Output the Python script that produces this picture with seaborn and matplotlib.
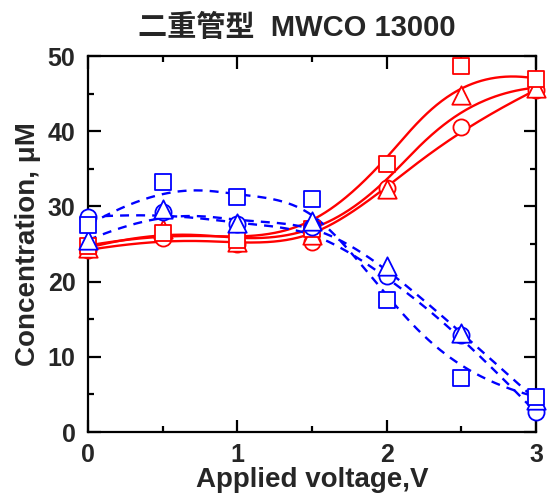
import numpy as np
import pandas as pd
import matplotlib
matplotlib.use("Agg")
import matplotlib.pyplot as plt
import seaborn as sns
from matplotlib.ticker import MultipleLocator

# ---- data ----
voltage = [0.0, 0.5, 1.0, 1.5, 2.0, 2.5, 3.0]

red_square   = [24.8, 26.5, 25.5, 27.0, 35.6, 48.7, 47.0]
red_triangle = [24.5, 27.0, 25.3, 26.2, 32.3, 44.8, 45.8]
red_circle   = [24.2, 25.8, 25.0, 25.3, 32.4, 40.5, 45.5]

blue_square   = [27.5, 33.2, 31.3, 31.0, 17.6, 7.2, 4.7]
blue_triangle = [25.5, 29.7, 27.8, 28.0, 22.1, 13.2, 4.3]
blue_circle   = [28.6, 29.2, 27.6, 27.2, 20.8, 12.9, 2.6]

title_text = "二重管型  MWCO 13000"
xlabel_text = "Applied voltage,V"
ylabel_text = "Concentration, μM"


def bspline(xs, ys, n=300, k=3):
    """Clamped uniform B-spline using data points as control points (Origin-style)."""
    P = np.column_stack([xs, ys]).astype(float)
    m = len(P)
    inner = np.linspace(0, 1, m - k + 1)
    t = np.concatenate([np.zeros(k), inner, np.ones(k)])
    u = np.linspace(0, 1, n)
    u[-1] = 1 - 1e-12

    def basis(i, p, uu):
        if p == 0:
            return np.where((t[i] <= uu) & (uu < t[i + 1]), 1.0, 0.0)
        out = np.zeros_like(uu)
        d1 = t[i + p] - t[i]
        d2 = t[i + p + 1] - t[i + 1]
        if d1 > 0:
            out += (uu - t[i]) / d1 * basis(i, p - 1, uu)
        if d2 > 0:
            out += (t[i + p + 1] - uu) / d2 * basis(i + 1, p - 1, uu)
        return out

    B = np.column_stack([basis(i, k, u) for i in range(m)])
    C = B @ P
    return C[:, 0], C[:, 1]


series = [
    ("red_c", red_circle, "#FF0000", "o", "solid"),
    ("red_t", red_triangle, "#FF0000", "^", "solid"),
    ("red_s", red_square, "#FF0000", "s", "solid"),
    ("blue_c", blue_circle, "#0000FF", "o", "dashed"),
    ("blue_t", blue_triangle, "#0000FF", "^", "dashed"),
    ("blue_s", blue_square, "#0000FF", "s", "dashed"),
]
marker_size = {"s": 130, "^": 175, "o": 135}

sns.set_theme(style="white")
plt.rcParams["font.family"] = ["Liberation Sans", "Noto Sans CJK JP", "DejaVu Sans"]
plt.rcParams["font.weight"] = "bold"

fig = plt.figure(figsize=(5.47, 4.93), dpi=100)
ax = fig.add_axes([88 / 547, 1 - 432 / 493, (536 - 88) / 547, (432 - 56) / 493])

for name, vals, col, mk, ls in series:
    cx, cy = bspline(voltage, vals)
    cdf = pd.DataFrame({"x": cx, "y": cy})
    sns.lineplot(data=cdf, x="x", y="y", ax=ax, color=col, linewidth=1.7,
                 sort=False, estimator=None, zorder=2)
    if ls == "dashed":
        ax.lines[-1].set_dashes([3.8, 3.0])

for name, vals, col, mk, ls in series:
    pdf = pd.DataFrame({"x": voltage, "y": vals})
    sns.scatterplot(data=pdf, x="x", y="y", ax=ax, marker=mk, s=marker_size[mk],
                    facecolor="white", edgecolor=col, linewidth=1.3,
                    zorder=3, clip_on=False)

ax.set_xlim(0, 3)
ax.set_ylim(0, 50)
ax.xaxis.set_major_locator(MultipleLocator(1))
ax.xaxis.set_minor_locator(MultipleLocator(0.5))
ax.yaxis.set_major_locator(MultipleLocator(10))
ax.yaxis.set_minor_locator(MultipleLocator(5))
ax.tick_params(which="both", direction="in", top=True, right=True,
               bottom=True, left=True, color="black", width=1.6)
ax.tick_params(which="major", length=9, labelsize=18)
ax.tick_params(axis="x", which="major", pad=8)
ax.tick_params(axis="y", which="major", pad=9)
ax.tick_params(which="minor", length=4.5)
for lab in ax.get_xticklabels() + ax.get_yticklabels():
    lab.set_fontweight("bold")
for sp in ax.spines.values():
    sp.set_color("black")
    sp.set_linewidth(1.6)

ax.set_xlabel(xlabel_text, fontsize=20, fontweight="bold")
ax.xaxis.set_label_coords(0.5, -0.092)
ax.set_ylabel(ylabel_text, fontsize=20, fontweight="bold")
ax.yaxis.set_label_coords(-0.105, 0.5)
fig.text(297 / 547, 1 - 28 / 493, title_text, ha="center", va="center",
         fontsize=21, fontweight="bold")

fig.savefig("out.png", dpi=100)
